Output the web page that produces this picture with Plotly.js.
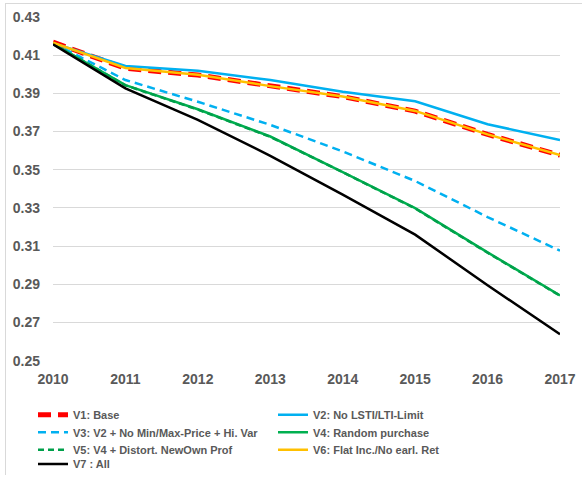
<!DOCTYPE html>
<html>
<head>
<meta charset="utf-8">
<script src="https://cdn.plot.ly/plotly-3.0.1.min.js"></script>
<style>
  html, body { margin: 0; padding: 0; background: #fff; }
  #wrap { position: relative; width: 582px; height: 479px; overflow: hidden; }
  #chart { position: absolute; left: 0; top: 0; width: 582px; height: 479px; }
  #frame { position: absolute; left: 5px; top: 3px; width: 600px; height: 471px;
           border-left: 1px solid #d9d9d9; border-top: 1px solid #d9d9d9; pointer-events: none; }
</style>
</head>
<body>
<div id="wrap">
  <div id="chart"></div>
  <div id="frame"></div>
</div>
<script>
const years = [2010, 2011, 2012, 2013, 2014, 2015, 2016, 2017];
const yTicks = [0.25, 0.27, 0.29, 0.31, 0.33, 0.35, 0.37, 0.39, 0.41, 0.43];

const v1Base      = [0.4168, 0.4031, 0.3996, 0.3938, 0.3883, 0.3807, 0.3685, 0.3576];
const v2NoLimit   = [0.4163, 0.4043, 0.4018, 0.3970, 0.3909, 0.3859, 0.3738, 0.3656];
const v3NoMinMax  = [0.4163, 0.3970, 0.3856, 0.3735, 0.3596, 0.3441, 0.3252, 0.3076];
const v4Random    = [0.4160, 0.3943, 0.3817, 0.3674, 0.3488, 0.3299, 0.3067, 0.2841];
const v5Distort   = [0.4160, 0.3942, 0.3815, 0.3672, 0.3487, 0.3297, 0.3065, 0.2840];
const v6FlatInc   = [0.4165, 0.4033, 0.3998, 0.3938, 0.3884, 0.3808, 0.3685, 0.3577];
const v7All       = [0.4157, 0.3926, 0.3761, 0.3573, 0.3370, 0.3160, 0.2895, 0.2638];

const names = [
  'V1: Base',
  'V2: No LSTI/LTI-Limit',
  'V3: V2 + No Min/Max-Price + Hi. Var',
  'V4: Random purchase',
  'V5: V4 + Distort. NewOwn Prof',
  'V6: Flat Inc./No earl. Ret',
  'V7 : All'
];

const series = [v1Base, v2NoLimit, v3NoMinMax, v4Random, v5Distort, v6FlatInc, v7All];
const styles = [
  {color: '#FF0000', width: 5, dash: '13px,7px'},
  {color: '#00B0F0', width: 2.5, dash: 'solid'},
  {color: '#00B0F0', width: 2.5, dash: '8px,5px'},
  {color: '#00B050', width: 2.5, dash: 'solid'},
  {color: '#00A04A', width: 2.5, dash: '6px,4px'},
  {color: '#FFC000', width: 2.5, dash: 'solid'},
  {color: '#000000', width: 2.5, dash: 'solid'}
];

const W = 582, H = 479, T = 16.5, B = 0, L = 53, R = 22;
const plotBottomPx = 362;
const paperH = H - T - B;
const toPaperY = px => (H - B - px) / paperH;
const toPaperX = px => (px - L) / (W - L - R);

const tickFont = {family: 'Arial, "Liberation Sans", sans-serif', size: 14, color: '#595959', weight: 'bold'};
const legFont = {family: 'Arial, "Liberation Sans", sans-serif', size: 11, color: '#595959', weight: 'bold'};

// legend grid: two columns, rows top to bottom, filled left to right
const rowCentersPx = [416.5, 434, 451.5, 466];
const colLeftPx = [33, 273];

const layout = {
  width: W, height: H,
  margin: {l: L, r: R, t: T, b: B, pad: 0},
  paper_bgcolor: '#ffffff', plot_bgcolor: '#ffffff',
  showlegend: true,
  xaxis: {
    range: [2010, 2017], tickvals: years, ticktext: years.map(String),
    showgrid: false, zeroline: false, showline: false, ticks: '',
    tickfont: tickFont, ticklabelstandoff: 8, fixedrange: true, automargin: false
  },
  yaxis: {
    domain: [toPaperY(plotBottomPx), 1],
    range: [0.25, 0.43], tickvals: yTicks, ticktext: yTicks.map(v => v.toFixed(2)),
    showgrid: true, gridcolor: '#d9d9d9', gridwidth: 1, zeroline: false, showline: false,
    ticks: '', tickfont: tickFont, ticklabelstandoff: 12, fixedrange: true, automargin: false
  }
};

const traces = series.map((s, i) => {
  const id = i === 0 ? 'legend' : 'legend' + (i + 1);
  layout[id] = {
    orientation: 'h', x: toPaperX(colLeftPx[i % 2]), xanchor: 'left',
    y: toPaperY(rowCentersPx[Math.floor(i / 2)]), yanchor: 'middle',
    font: legFont, itemwidth: 30, bgcolor: 'rgba(0,0,0,0)', borderwidth: 0
  };
  return {
    x: years, y: s, name: names[i], type: 'scatter', mode: 'lines',
    line: styles[i], hoverinfo: 'skip', legend: id
  };
});

Plotly.newPlot('chart', traces, layout, {displayModeBar: false, staticPlot: true});
</script>
</body>
</html>
